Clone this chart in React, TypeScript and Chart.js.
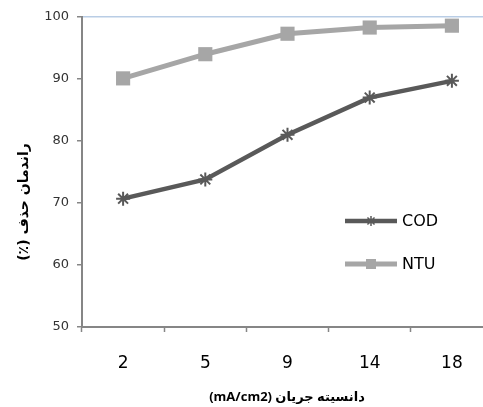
import React, { useEffect, useRef } from "react";
import { Chart, registerables } from "chart.js";

Chart.register(...registerables);

const categories = ["2", "5", "9", "14", "18"];
const codValues = [70.7, 73.8, 81.0, 87.0, 89.7];
const ntuValues = [90.1, 94.0, 97.3, 98.3, 98.6];
const seriesNames = ["COD", "NTU"];
const yMin = 50;
const yMax = 100;
const yStep = 10;
const xTitle = "دانسیته جریان (mA/cm2)";
const yTitle = "راندمان حذف (٪)";

const COD_COLOR = "#595959";
const NTU_COLOR = "#A6A6A6";
const AXIS_COLOR = "#868686";

const titlesAndLegend = {
  id: "titlesAndLegend",
  afterDraw(chart: any) {
    const ctx = chart.ctx as CanvasRenderingContext2D;
    ctx.save();
    ctx.fillStyle = "#000";
    ctx.textAlign = "center";
    ctx.textBaseline = "middle";
    (ctx as any).direction = "rtl";
    ctx.font = 'bold 13px "Open Sans", "DejaVu Sans"';
    ctx.fillText(xTitle, 287, 397);
    ctx.save();
    ctx.translate(24, 202);
    ctx.rotate(-Math.PI / 2);
    ctx.font = 'bold 14px "DejaVu Sans"';
    ctx.fillText(yTitle, 0, 0);
    ctx.restore();
    (ctx as any).direction = "ltr";

    // legend
    const items = chart.data.datasets.map((d: any, i: number) => ({
      label: d.label,
      color: d.borderColor,
      style: d.pointStyle,
      y: i === 0 ? 221 : 264,
      width: d.borderWidth,
    }));
    for (const it of items) {
      ctx.strokeStyle = it.color;
      ctx.lineWidth = it.width;
      ctx.beginPath();
      ctx.moveTo(345, it.y);
      ctx.lineTo(397, it.y);
      ctx.stroke();
      const cx = 371;
      if (it.style === "star") {
        const r = 5;
        ctx.lineWidth = 1.5;
        ctx.beginPath();
        ctx.moveTo(cx - r, it.y);
        ctx.lineTo(cx + r, it.y);
        ctx.moveTo(cx, it.y - r);
        ctx.lineTo(cx, it.y + r);
        const d = r * Math.SQRT1_2;
        ctx.moveTo(cx - d, it.y - d);
        ctx.lineTo(cx + d, it.y + d);
        ctx.moveTo(cx - d, it.y + d);
        ctx.lineTo(cx + d, it.y - d);
        ctx.stroke();
      } else {
        ctx.fillStyle = it.color;
        ctx.fillRect(cx - 5, it.y - 5, 10, 10);
      }
      ctx.fillStyle = "#000";
      ctx.textAlign = "left";
      ctx.font = '16px "DejaVu Sans"';
      ctx.fillText(it.label, 402, it.y + 1);
    }
    ctx.restore();
  },
};

export default function App() {
  const ref = useRef<HTMLCanvasElement>(null);
  useEffect(() => {
    if (!ref.current) return;
    const chart = new Chart(ref.current, {
      type: "line",
      data: {
        labels: categories,
        datasets: [
          {
            label: seriesNames[0],
            data: codValues,
            borderColor: COD_COLOR,
            backgroundColor: COD_COLOR,
            borderWidth: 4.5,
            pointStyle: "star",
            pointRadius: 7,
            pointBorderWidth: 2,
            pointBorderColor: COD_COLOR,
            pointBackgroundColor: COD_COLOR,
            tension: 0,
          },
          {
            label: seriesNames[1],
            data: ntuValues,
            borderColor: NTU_COLOR,
            backgroundColor: NTU_COLOR,
            borderWidth: 5,
            pointStyle: "rect",
            pointRadius: 10,
            pointBorderWidth: 0,
            pointBackgroundColor: NTU_COLOR,
            tension: 0,
          },
        ],
      },
      options: {
        responsive: true,
        maintainAspectRatio: false,
        animation: false,
        layout: { padding: { left: 0, top: 17, right: 0, bottom: 0 } },
        plugins: {
          legend: { display: false },
          tooltip: { enabled: false },
          title: { display: false },
        },
        scales: {
          x: {
            type: "category",
            offset: true,
            afterFit: (s: any) => {
              s.height = 80;
            },
            grid: {
              offset: true,
              drawOnChartArea: false,
              drawTicks: true,
              tickLength: 5,
              tickColor: AXIS_COLOR,
              tickWidth: 1.5,
            },
            border: { display: true, color: AXIS_COLOR, width: 2 },
            ticks: {
              color: "#000",
              font: { family: '"DejaVu Sans"', size: 17 },
              padding: 21,
              maxRotation: 0,
            },
          },
          y: {
            min: yMin,
            max: yMax,
            afterFit: (s: any) => {
              s.width = 82;
            },
            grid: {
              drawOnChartArea: true,
              color: (c: any) => (c.tick && c.tick.value === yMax ? "#B9CDE5" : "rgba(0,0,0,0)"),
              lineWidth: 1.5,
              tickLength: 5,
              tickColor: AXIS_COLOR,
              tickWidth: 1.5,
            },
            border: { display: true, color: AXIS_COLOR, width: 2 },
            ticks: {
              stepSize: yStep,
              color: "#333",
              font: { family: '"DejaVu Sans"', size: 13 },
              padding: 8,
            },
          },
        },
      },
      plugins: [titlesAndLegend],
    } as any);
    return () => chart.destroy();
  }, []);
  return (
    <div
      style={{
        position: "fixed",
        left: 0,
        top: 0,
        width: 483,
        height: 407,
        overflow: "hidden",
        background: "#fff",
      }}
    >
      <div style={{ position: "relative", width: 503, height: 407 }}>
        <canvas ref={ref} />
      </div>
    </div>
  );
}
